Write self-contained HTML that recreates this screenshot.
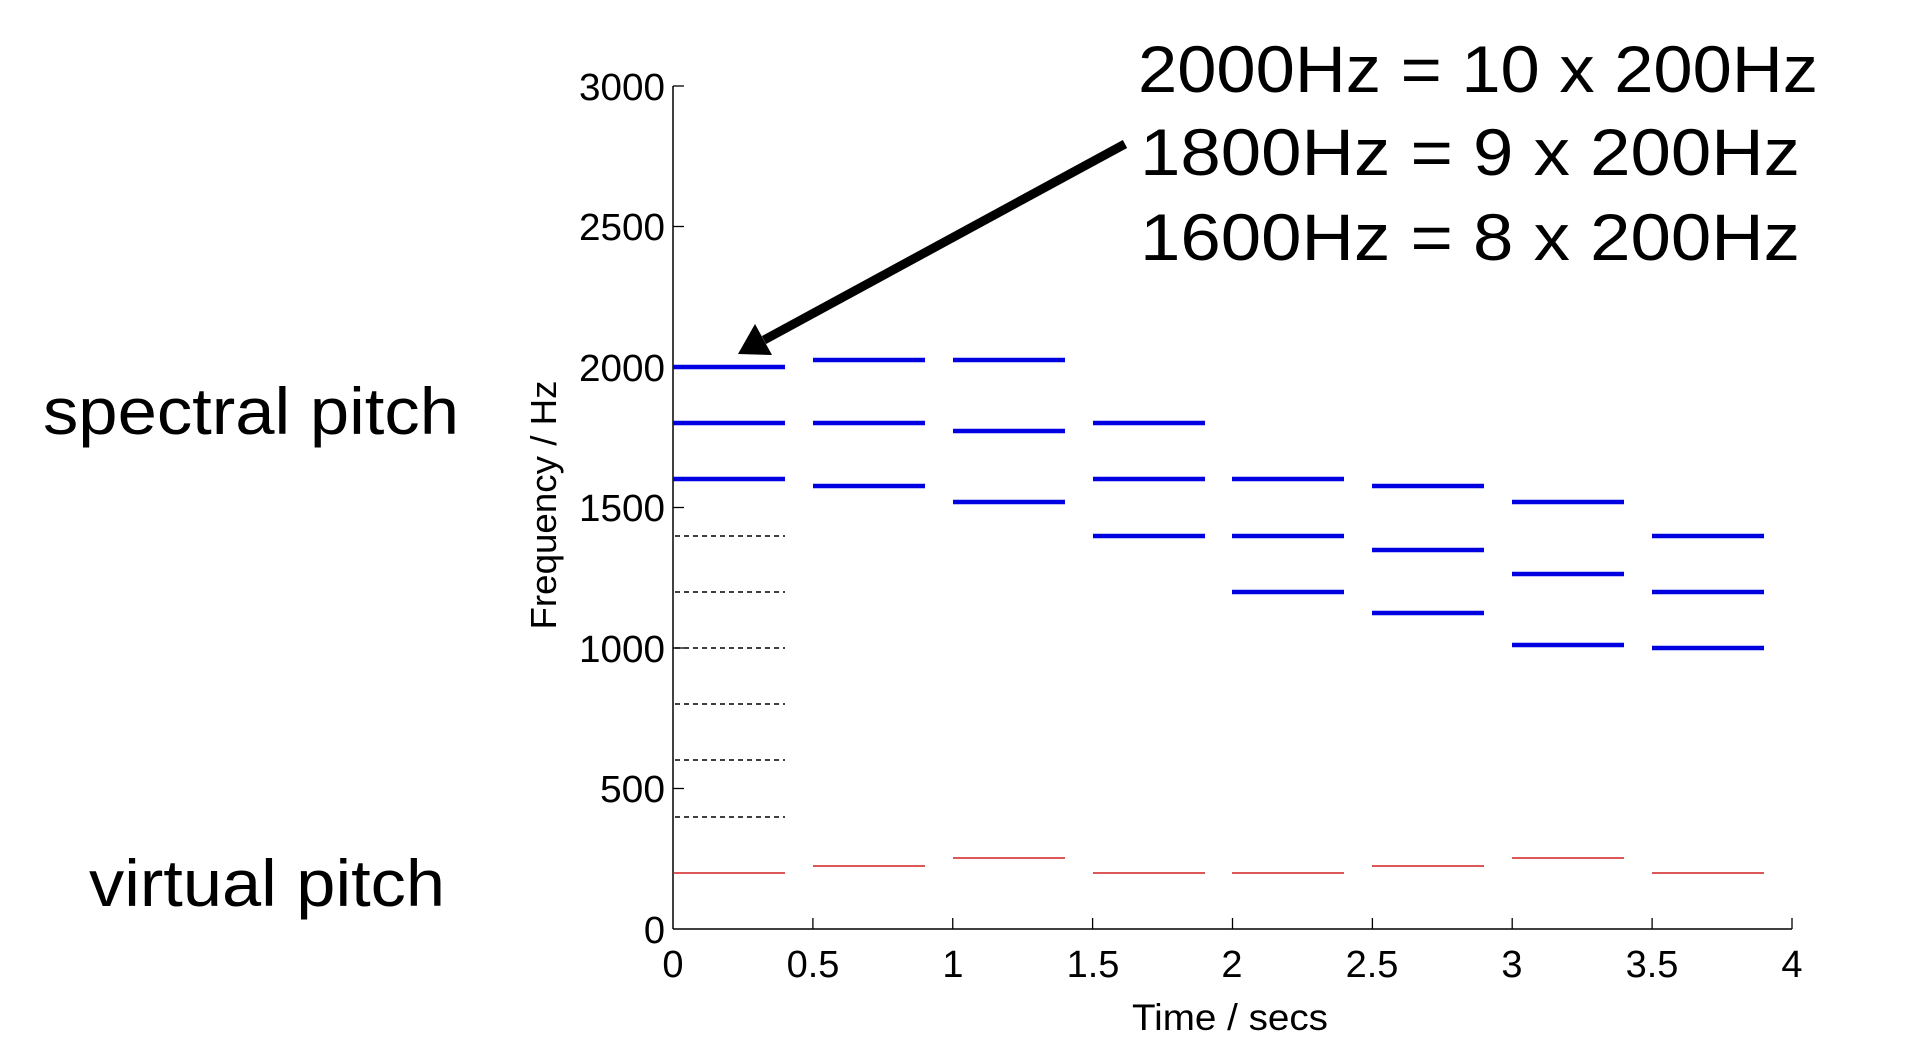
<!DOCTYPE html>
<html><head><meta charset="utf-8"><style>
html,body{margin:0;padding:0;background:#fff;}
svg{display:block;}
text{font-family:"Liberation Sans",Arial,sans-serif;fill:#000;}
</style></head><body>
<svg width="1928" height="1041" viewBox="0 0 1928 1041" xmlns="http://www.w3.org/2000/svg">
<rect width="1928" height="1041" fill="#fff"/>
<line x1="673" y1="86" x2="673" y2="929" stroke="#000" stroke-width="1.5"/>
<line x1="673" y1="929" x2="1792" y2="929" stroke="#000" stroke-width="1.5"/>
<g stroke="#000" stroke-width="1.3">
<line x1="673" y1="86" x2="684" y2="86"/>
<line x1="673" y1="226.5" x2="684" y2="226.5"/>
<line x1="673" y1="367" x2="684" y2="367"/>
<line x1="673" y1="507.5" x2="684" y2="507.5"/>
<line x1="673" y1="648" x2="684" y2="648"/>
<line x1="673" y1="788.5" x2="684" y2="788.5"/>
<line x1="812.9" y1="929" x2="812.9" y2="918"/>
<line x1="952.75" y1="929" x2="952.75" y2="918"/>
<line x1="1092.6" y1="929" x2="1092.6" y2="918"/>
<line x1="1232.5" y1="929" x2="1232.5" y2="918"/>
<line x1="1372.4" y1="929" x2="1372.4" y2="918"/>
<line x1="1512.2" y1="929" x2="1512.2" y2="918"/>
<line x1="1652.1" y1="929" x2="1652.1" y2="918"/>
<line x1="1792" y1="929" x2="1792" y2="918"/>
</g>
<g font-size="38" text-anchor="end">
<text x="665" y="100" textLength="86" lengthAdjust="spacingAndGlyphs">3000</text>
<text x="665" y="240" textLength="86" lengthAdjust="spacingAndGlyphs">2500</text>
<text x="665" y="381" textLength="86" lengthAdjust="spacingAndGlyphs">2000</text>
<text x="665" y="521" textLength="86" lengthAdjust="spacingAndGlyphs">1500</text>
<text x="665" y="662" textLength="86" lengthAdjust="spacingAndGlyphs">1000</text>
<text x="665" y="802" textLength="65" lengthAdjust="spacingAndGlyphs">500</text>
<text x="665" y="943">0</text>
</g>
<g font-size="38" text-anchor="middle">
<text x="673" y="977">0</text>
<text x="813" y="977">0.5</text>
<text x="953" y="977">1</text>
<text x="1093" y="977">1.5</text>
<text x="1232" y="977">2</text>
<text x="1372" y="977">2.5</text>
<text x="1512" y="977">3</text>
<text x="1652" y="977">3.5</text>
<text x="1792" y="977">4</text>
</g>
<text x="1230" y="1030" font-size="37" text-anchor="middle" textLength="196" lengthAdjust="spacingAndGlyphs">Time / secs</text>
<text transform="translate(556,505) rotate(-90)" font-size="36" text-anchor="middle" textLength="249" lengthAdjust="spacingAndGlyphs">Frequency / Hz</text>
<g stroke="#000" stroke-width="1.6" stroke-dasharray="5,4">
<line x1="675" y1="536" x2="785" y2="536"/>
<line x1="675" y1="592" x2="785" y2="592"/>
<line x1="675" y1="648" x2="785" y2="648"/>
<line x1="675" y1="704" x2="785" y2="704"/>
<line x1="675" y1="760" x2="785" y2="760"/>
<line x1="675" y1="817" x2="785" y2="817"/>
</g>
<g stroke="#0000e0" stroke-width="4.5">
<line x1="673" y1="367" x2="785" y2="367"/><line x1="673" y1="423" x2="785" y2="423"/><line x1="673" y1="479" x2="785" y2="479"/>
<line x1="813" y1="360" x2="925" y2="360"/><line x1="813" y1="423" x2="925" y2="423"/><line x1="813" y1="486" x2="925" y2="486"/>
<line x1="953" y1="360" x2="1065" y2="360"/><line x1="953" y1="431" x2="1065" y2="431"/><line x1="953" y1="502" x2="1065" y2="502"/>
<line x1="1093" y1="423" x2="1205" y2="423"/><line x1="1093" y1="479" x2="1205" y2="479"/><line x1="1093" y1="536" x2="1205" y2="536"/>
<line x1="1232" y1="479" x2="1344" y2="479"/><line x1="1232" y1="536" x2="1344" y2="536"/><line x1="1232" y1="592" x2="1344" y2="592"/>
<line x1="1372" y1="486" x2="1484" y2="486"/><line x1="1372" y1="550" x2="1484" y2="550"/><line x1="1372" y1="613" x2="1484" y2="613"/>
<line x1="1512" y1="502" x2="1624" y2="502"/><line x1="1512" y1="574" x2="1624" y2="574"/><line x1="1512" y1="645" x2="1624" y2="645"/>
<line x1="1652" y1="536" x2="1764" y2="536"/><line x1="1652" y1="592" x2="1764" y2="592"/><line x1="1652" y1="648" x2="1764" y2="648"/>
</g>
<g stroke="#d02020" stroke-width="1.6">
<line x1="673" y1="873" x2="785" y2="873"/>
<line x1="813" y1="866" x2="925" y2="866"/>
<line x1="953" y1="858" x2="1065" y2="858"/>
<line x1="1093" y1="873" x2="1205" y2="873"/>
<line x1="1232" y1="873" x2="1344" y2="873"/>
<line x1="1372" y1="866" x2="1484" y2="866"/>
<line x1="1512" y1="858" x2="1624" y2="858"/>
<line x1="1652" y1="873" x2="1764" y2="873"/>
</g>
<line x1="1125" y1="144" x2="764" y2="340" stroke="#000" stroke-width="9"/>
<polygon points="738,354 755,324 772,355" fill="#000"/>
<g font-size="66" xml:space="preserve">
<text x="1138" y="92" textLength="680" lengthAdjust="spacingAndGlyphs">2000Hz = 10 x 200Hz</text>
<text x="1140" y="175" textLength="660" lengthAdjust="spacingAndGlyphs">1800Hz =  9 x 200Hz</text>
<text x="1140" y="260" textLength="660" lengthAdjust="spacingAndGlyphs">1600Hz =  8 x 200Hz</text>
<text x="43" y="434" textLength="416" lengthAdjust="spacingAndGlyphs">spectral pitch</text>
<text x="89" y="906" textLength="356" lengthAdjust="spacingAndGlyphs">virtual pitch</text>
</g>
</svg>
</body></html>
